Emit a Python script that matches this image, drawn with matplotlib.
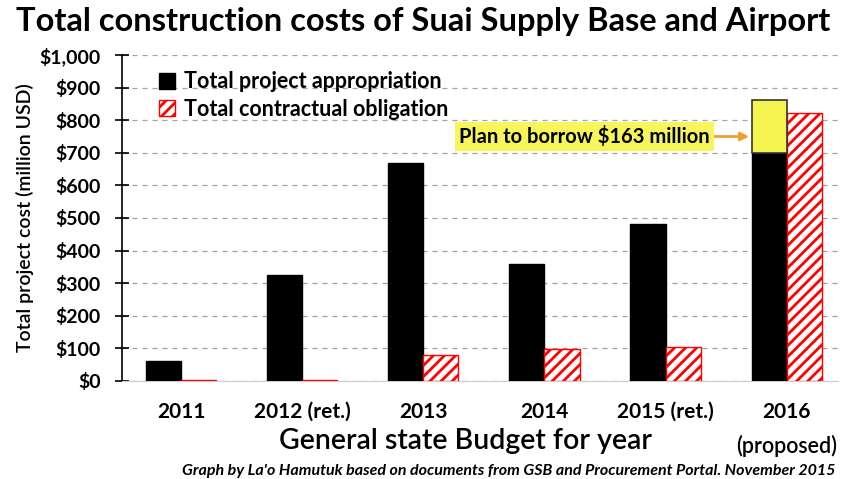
import matplotlib.pyplot as plt
import numpy as np

plt.rcParams['font.family'] = ['Lato', 'DejaVu Sans']
plt.rcParams['hatch.linewidth'] = 2.0
plt.rcParams['hatch.color'] = 'red'

years = ["2011", "2012 (ret.)", "2013", "2014", "2015 (ret.)", "2016"]
appropriation = [60, 325, 670, 358, 482, 700]
obligation = [4, 4, 80, 97, 104, 822]
borrow = 163  # extra on top of 2016 appropriation

fig = plt.figure(figsize=(8.46, 4.79), dpi=100)
ax = fig.add_axes([0.144, 0.205, 0.846, 0.68])

x = np.arange(len(years))
w = 0.29

ax.bar(x - w / 2, appropriation, w, color='black', edgecolor='black',
       label='Total project appropriation', zorder=3)
ax.bar(x + w / 2, obligation, w, color='white', edgecolor='red', hatch='///',
       linewidth=1, label='Total contractual obligation', zorder=3)
ax.bar(x[-1] - w / 2, borrow, w, bottom=appropriation[-1], color='#f5f44e',
       edgecolor='#333333', linewidth=1.2, zorder=3)

ax.set_ylim(0, 1000)
ax.set_xlim(-0.49, 5.42)
ax.set_yticks(np.arange(0, 1001, 100))
ax.set_yticklabels(['$0'] + ['${:,}'.format(v) for v in range(100, 1001, 100)],
                   fontsize=14, fontweight='bold')
ax.set_xticks(x)
ax.set_xticklabels(years, fontsize=15, fontweight='bold')
ax.tick_params(axis='x', length=0, pad=15)
ax.tick_params(axis='y', direction='inout', length=10, width=1.2, pad=10)

ax.grid(axis='y', linestyle=(0, (4, 4)), color='#a0a0a0', linewidth=0.9, zorder=0)
for s in ['top', 'right']:
    ax.spines[s].set_visible(False)
ax.spines['bottom'].set_color('#cccccc')
ax.spines['left'].set_linewidth(1.2)

ax.text(x[-1], -0.2, '(proposed)', transform=ax.get_xaxis_transform(),
        ha='center', va='center', fontsize=15.5, fontweight='semibold')

ax.annotate('Plan to borrow $163 million', xy=(x[-1] - w - 0.02, 750),
            xytext=(3.33, 750), ha='center', va='center',
            fontsize=14.5, fontweight='bold',
            bbox=dict(boxstyle='square,pad=0.2', fc='#f6f65a', ec='none'),
            arrowprops=dict(arrowstyle='-|>', color='#f0a030', lw=2,
                            mutation_scale=12, shrinkA=0, shrinkB=0))

leg = ax.legend(loc='upper left', bbox_to_anchor=(0.025, 1.01), frameon=False,
                handlelength=0.75, handleheight=0.75,
                handletextpad=0.4, labelspacing=0.3, prop={'weight': 'bold', 'size': 15.5})

ax.set_ylabel('Total project cost (million USD)', fontsize=14, labelpad=4,
              fontweight='semibold')
ax.set_xlabel('General state Budget for year', fontsize=20.5,
              fontweight='semibold')
ax.xaxis.set_label_coords(0.48, -0.145)

fig.text(0.5, 0.956, 'Total construction costs of Suai Supply Base and Airport',
         ha='center', va='center', fontsize=23.5, fontweight='bold')
fig.text(0.988, 0.017, 'Graph by La\'o Hamutuk based on documents from GSB and Procurement Portal. November 2015',
         ha='right', va='center', fontsize=11.5, fontweight='bold', style='italic')

fig.savefig('out.png', dpi=100)
